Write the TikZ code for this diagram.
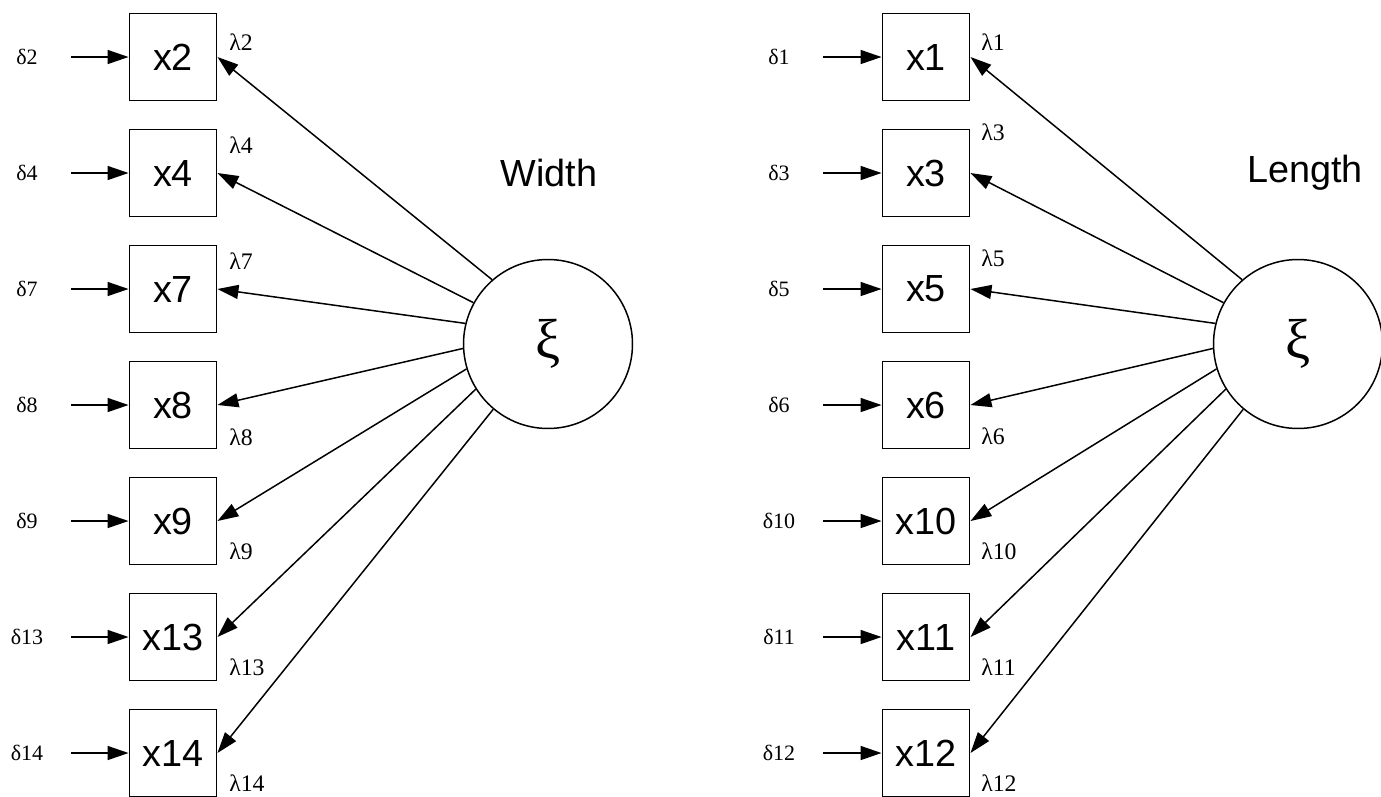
\documentclass[tikz,border=0pt]{standalone}
\usepackage{fontspec}
\setmainfont{Liberation Serif}
\newfontfamily\arialf{Liberation Sans}
\usetikzlibrary{arrows.meta}
\begin{document}
\begin{tikzpicture}[x=0.02cm,y=-0.02cm,
  obs/.style={draw,line width=1.1pt,minimum width=1.74cm,minimum height=1.74cm,inner sep=0pt,font=\arialf\fontsize{21.5}{21.5}\selectfont},
  lat/.style={draw,circle,line width=0.85pt,minimum size=3.38cm,inner sep=0pt,font=\fontsize{32}{32}\selectfont},
  err/.style={minimum width=1.76cm,inner sep=0pt,font=\fontsize{12.5}{12.5}\selectfont},
  load/.style={anchor=west,inner sep=0pt,font=\fontsize{13.5}{13.5}\selectfont},
  title/.style={font=\arialf\fontsize{21.5}{21.5}\selectfont},
  path/.style={line width=0.85pt,-{Triangle[length=0.42cm,width=0.28cm]}}]
\useasboundingbox (0,0) rectangle (1381,796);
\fill[white] (0,0) rectangle (1381,796);

% left factor
\node[lat] (L) at (548,344) {\raisebox{-2pt}{ξ}};
\node[title] (wl) at (549,173) {Width};
\foreach \n/\i/\ang in {2/0/131,4/1/151,7/2/166,8/3/183,9/4/197,13/5/212,14/6/230}{
  \node[obs] (x\n) at (173,57+116*\i) {x\n};
  \node[err] (d\n) at (27,57+116*\i) {δ\n};
  \draw[path] (d\n.east) -- (x\n.west);
  \draw[path] (L.\ang) -- (x\n.east);
}
\node[load] (l2) at (229,42) {λ2};
\node[load] (l4) at (229,145) {λ4};
\node[load] (l7) at (229,261) {λ7};
\node[load] (l8) at (229,437) {λ8};
\node[load] (l9) at (229,551) {λ9};
\node[load] (l13) at (229,667) {λ13};
\node[load] (l14) at (229,783) {λ14};

% right factor
\node[lat] (R) at (1298,344) {\raisebox{-2pt}{ξ}};
\node[title] (ll) at (1305,173) {Length};
\foreach \n/\i/\ang in {1/0/131,3/1/151,5/2/166,6/3/183,10/4/197,11/5/212,12/6/230}{
  \node[obs] (x\n) at (926,57+116*\i) {x\n};
  \node[err] (d\n) at (779,57+116*\i) {δ\n};
  \draw[path] (d\n.east) -- (x\n.west);
  \draw[path] (R.\ang) -- (x\n.east);
}
\node[load] (l1) at (981,42) {λ1};
\node[load] (l3) at (981,132) {λ3};
\node[load] (l5) at (981,258) {λ5};
\node[load] (l6) at (981,436) {λ6};
\node[load] (l10) at (981,551) {λ10};
\node[load] (l11) at (981,667) {λ11};
\node[load] (l12) at (981,783) {λ12};
\end{tikzpicture}
\end{document}
